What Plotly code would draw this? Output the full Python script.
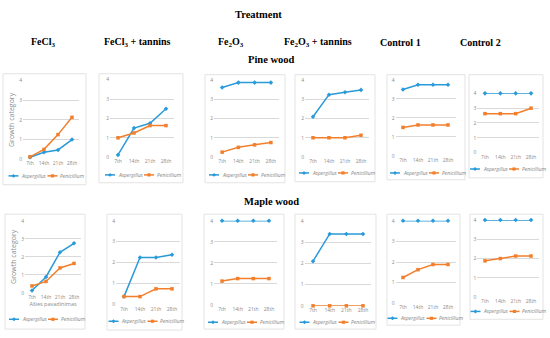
import plotly.graph_objects as go

W, H = 550, 338

# ---------------- data ----------------
categories = ["7th", "14th", "21th", "28th"]
treatments = ["FeCl<sub>3</sub>", "FeCl<sub>3</sub> + tannins", "Fe<sub>2</sub>O<sub>3</sub>",
              "Fe<sub>2</sub>O<sub>3</sub> + tannins", "Control 1", "Control 2"]
series_names = ["Aspergillus", "Penicillium"]

pine_aspergillus = [
    [0.10, 0.35, 0.47, 1.00],
    [0.12, 1.50, 1.75, 2.50],
    [3.62, 3.88, 3.88, 3.88],
    [2.10, 3.25, 3.38, 3.50],
    [3.50, 3.75, 3.75, 3.75],
    [4.00, 4.00, 4.00, 4.00],
]
pine_penicillium = [
    [0.12, 0.50, 1.25, 2.13],
    [1.00, 1.25, 1.63, 1.63],
    [0.25, 0.50, 0.63, 0.75],
    [1.00, 1.00, 1.00, 1.13],
    [1.50, 1.63, 1.63, 1.63],
    [2.63, 2.63, 2.63, 3.00],
]
maple_aspergillus = [
    [0.13, 0.88, 2.25, 2.75],
    [0.38, 2.25, 2.25, 2.38],
    [4.00, 4.00, 4.00, 4.00],
    [2.10, 3.38, 3.38, 3.38],
    [4.00, 4.00, 4.00, 4.00],
    [4.00, 4.00, 4.00, 4.00],
]
maple_penicillium = [
    [0.38, 0.63, 1.38, 1.63],
    [0.38, 0.38, 0.75, 0.75],
    [1.13, 1.25, 1.25, 1.25],
    [0.00, 0.00, 0.00, 0.00],
    [1.25, 1.63, 1.88, 1.88],
    [1.88, 2.00, 2.13, 2.13],
]
y_ticks = [0, 1, 2, 3, 4]

# ---------------- layout geometry (pixels) ----------------
plot_areas = [
    (23, 79, 79, 159), (110, 174, 78, 157), (214, 279, 78.7, 156.7),
    (305, 369, 78.7, 156.7), (395.5, 455.5, 78.3, 155.7), (477.3, 538.7, 92, 152.3),
    (25, 81, 221.7, 295), (116, 180, 221.7, 307), (214.2, 276.8, 221.7, 307.3),
    (304.7, 371.3, 221.7, 308.3), (395.5, 455.5, 221.7, 305.7), (477.3, 538.7, 221, 299.3),
]
boxes = [
    (3, 86, 72, 185), (99, 183, 72, 183), (205, 285, 73, 183),
    (295, 375, 73, 182), (387, 465, 73, 180), (469, 543, 73, 178),
    (5, 85, 215, 332), (107, 182, 215, 333), (204, 284, 215, 332),
    (295, 376, 215, 332), (387, 460, 215, 328), (470, 543, 215, 322),
]
legend_y = [176, 175, 175, 173, 173, 169, 322, 324, 325, 325, 321, 314]

BLUE = "#2A9AD9"
ORANGE = "#F27F2C"
GRID = "#D9D9D9"
TICK = "#8C8C8C"
LEGTXT = "#7F7F7F"

def px(x):
    return x / W

def py(y):
    return 1 - y / H

fig = go.Figure()
all_asp = pine_aspergillus + maple_aspergillus
all_pen = pine_penicillium + maple_penicillium

shapes = []
annotations = []

def legend_item(x0, y, color, symbol, label):
    shapes.append(dict(type="line", xref="paper", yref="paper",
                       x0=px(x0), x1=px(x0 + 10), y0=py(y), y1=py(y),
                       line=dict(color=color, width=1.5)))
    mx = x0 + 5
    if symbol == "square":
        shapes.append(dict(type="rect", xref="paper", yref="paper",
                           x0=px(mx - 1.6), x1=px(mx + 1.6), y0=py(y + 1.6), y1=py(y - 1.6),
                           line=dict(width=0), fillcolor=color))
    else:
        path = (f"M{px(mx - 2)},{py(y)} L{px(mx)},{py(y - 2)} "
                f"L{px(mx + 2)},{py(y)} L{px(mx)},{py(y + 2)} Z")
        shapes.append(dict(type="path", xref="paper", yref="paper", path=path,
                           line=dict(width=0), fillcolor=color))
    annotations.append(dict(xref="paper", yref="paper", x=px(x0 + 10.5), y=py(y),
                            xanchor="left", yanchor="middle", showarrow=False,
                            text=f"<i>{label}</i>",
                            font=dict(size=5, color=LEGTXT, family="Open Sans")))

for i in range(12):
    k = i + 1
    xa = "x" if k == 1 else f"x{k}"
    ya = "y" if k == 1 else f"y{k}"
    for name, vals, col, sym in [(series_names[0], all_asp[i], BLUE, "diamond"),
                                 (series_names[1], all_pen[i], ORANGE, "square")]:
        fig.add_trace(go.Scatter(
            x=categories, y=vals, mode="lines+markers", name=name,
            line=dict(color=col, width=1.5),
            marker=dict(color=col, size=3.5, symbol=sym),
            xaxis=xa, yaxis=ya, showlegend=False, cliponaxis=False,
        ))
    xl, xr, yt, yb = plot_areas[i]
    xkey = "xaxis" if k == 1 else f"xaxis{k}"
    ykey = "yaxis" if k == 1 else f"yaxis{k}"
    fig.layout[xkey] = dict(
        domain=[px(xl), px(xr)], anchor=ya, type="category",
        range=[-0.5, 3.5], showgrid=False, zeroline=False, showline=False,
        ticks="", tickfont=dict(size=5, color=TICK, family="Open Sans"),
        fixedrange=True,
    )
    fig.layout[ykey] = dict(
        domain=[py(yb), py(yt)], anchor=xa, range=[0, 4],
        tickvals=y_ticks, showgrid=True, gridcolor=GRID, gridwidth=0.8,
        zeroline=False, showline=False, ticks="",
        tickfont=dict(size=5, color=TICK, family="Open Sans"),
        fixedrange=True,
    )
    if k in (1, 7):
        fig.layout[ykey].title = dict(text="Growth category",
                                      font=dict(size=7, color=TICK, family="Open Sans"),
                                      standoff=3)
    if k == 7:
        fig.layout[xkey].title = dict(text="Ašies pavadinimas",
                                      font=dict(size=5.5, color=TICK, family="Open Sans"),
                                      standoff=2)
    bx0, bx1, by0, by1 = boxes[i]
    shapes.append(dict(type="rect", xref="paper", yref="paper",
                       x0=px(bx0), x1=px(bx1), y0=py(by1), y1=py(by0),
                       line=dict(color="#E3E3E3", width=1), fillcolor="rgba(0,0,0,0)",
                       layer="below"))
    start = (bx0 + bx1) / 2 - 36
    legend_item(start, legend_y[i], BLUE, "diamond", series_names[0])
    legend_item(start + 39, legend_y[i], ORANGE, "square", series_names[1])

# headers
HF = "Liberation Serif"
annotations.append(dict(xref="paper", yref="paper", x=px(258), y=py(12), text="<b>Treatment</b>",
                        showarrow=False, xanchor="center", yanchor="middle",
                        font=dict(size=10.5, color="black", family=HF)))
col_x = [43, 137, 231, 318, 400, 480]
for t, cx in zip(treatments, col_x):
    annotations.append(dict(xref="paper", yref="paper", x=px(cx), y=py(40), text=f"<b>{t}</b>",
                            showarrow=False, xanchor="center", yanchor="middle",
                            font=dict(size=10, color="black", family=HF)))
annotations.append(dict(xref="paper", yref="paper", x=px(271), y=py(58), text="<b>Pine wood</b>",
                        showarrow=False, xanchor="center", yanchor="middle",
                        font=dict(size=10.5, color="black", family=HF)))
annotations.append(dict(xref="paper", yref="paper", x=px(271), y=py(202), text="<b>Maple wood</b>",
                        showarrow=False, xanchor="center", yanchor="middle",
                        font=dict(size=10.5, color="black", family=HF)))

fig.update_layout(
    width=W, height=H, margin=dict(l=0, r=0, t=0, b=0),
    paper_bgcolor="white", plot_bgcolor="white",
    shapes=shapes, annotations=annotations, showlegend=False,
)

fig.write_html("out.html", config={"displayModeBar": False},
               post_script="document.body.style.margin='0';document.body.style.padding='0';")
